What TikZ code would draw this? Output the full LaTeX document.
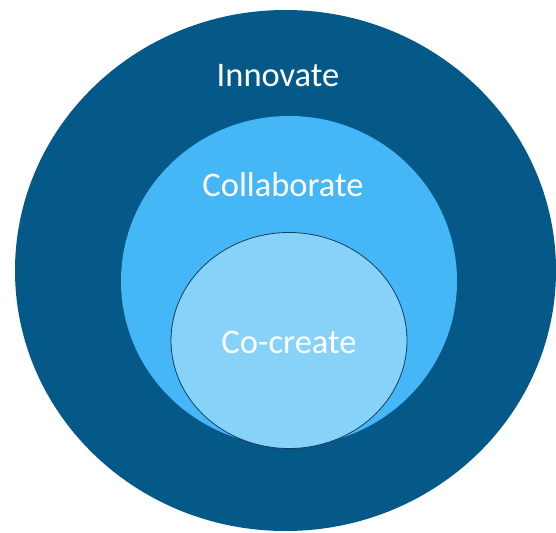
\documentclass[tikz,border=0pt]{standalone}
\usepackage{fontspec}
\setmainfont{Carlito}
\usepackage{tikz}
\definecolor{innovblue}{RGB}{5, 89, 136}
\definecolor{collabblue}{RGB}{69, 183, 246}
\definecolor{cocreblue}{RGB}{135, 210, 248}
\definecolor{rimblue}{RGB}{20, 62, 95}
\tikzset{circlabel/.style = {anchor = base, text = white, inner sep = 0pt, font = \fontsize{34.5}{40}\selectfont}}

\begin{document}
\begin{tikzpicture}[x = 1pt, y = -1pt]
\useasboundingbox (0,0) rectangle (556,532);
\fill[innovblue] (285.5, 270.5) ellipse [x radius = 270.5, y radius = 260.5];
\fill[collabblue] (289, 281) ellipse [x radius = 168, y radius = 165];
\draw[fill = cocreblue, draw = rimblue, line width = 0.8pt] (289, 340.5) ellipse [x radius = 118, y radius = 108];
\node[circlabel] (innovate) at (278, 87) {Innovate};
\node[circlabel] (collaborate) at (283, 196) {Collaborate};
\node[circlabel] (cocreate) at (289, 353) {Co-create};
\end{tikzpicture}
\end{document}
